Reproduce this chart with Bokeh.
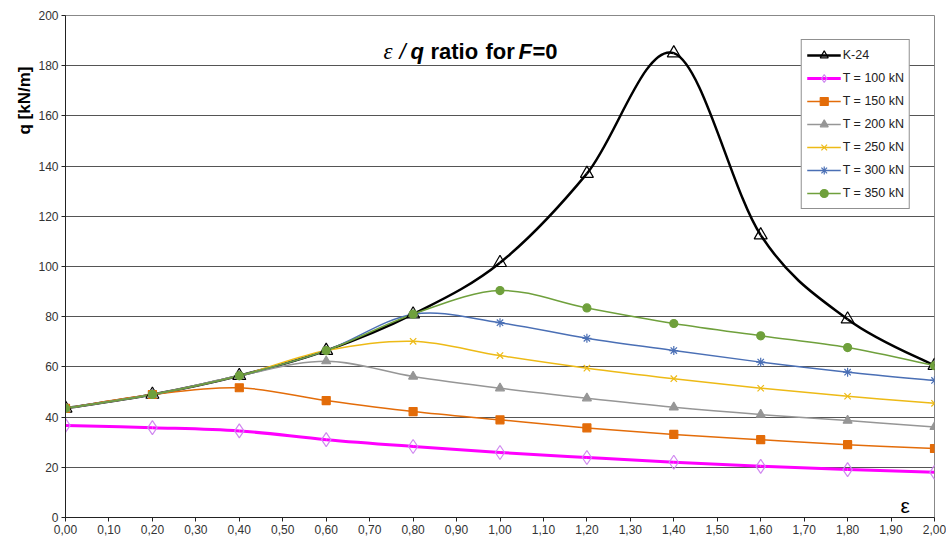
import numpy as np
from bokeh.plotting import figure
from bokeh.models import (Range1d, FixedTicker, CustomJSTickFormatter, Legend, LegendItem,
                          Label, ColumnDataSource, Title)
from bokeh.embed import file_html
from bokeh.resources import INLINE

eps = [0.0, 0.2, 0.4, 0.6, 0.8, 1.0, 1.2, 1.4, 1.6, 1.8, 2.0]
k24 = [43.5, 49.0, 56.5, 66.5, 81.0, 101.5, 137.0, 185.0, 112.5, 79.0, 60.5]
t100 = [36.7, 35.8, 34.5, 31.0, 28.3, 25.9, 23.9, 22.0, 20.4, 19.1, 18.0]
t150 = [43.5, 49.0, 51.7, 46.6, 42.2, 38.9, 35.7, 33.1, 31.0, 29.0, 27.5]
t200 = [43.5, 49.0, 56.5, 62.3, 56.2, 51.5, 47.5, 43.9, 41.0, 38.6, 36.1]
t250 = [43.5, 49.0, 56.5, 66.5, 70.2, 64.5, 59.5, 55.3, 51.5, 48.3, 45.5]
t300 = [43.5, 49.0, 56.5, 66.5, 81.0, 77.6, 71.4, 66.5, 61.9, 57.9, 54.6]
t350 = [43.5, 49.0, 56.5, 66.5, 81.0, 90.4, 83.5, 77.3, 72.4, 67.7, 60.5]
series_names = ["K-24", "T = 100 kN", "T = 150 kN", "T = 200 kN", "T = 250 kN", "T = 300 kN", "T = 350 kN"]
x_ticks = [round(i * 0.1, 2) for i in range(21)]
y_ticks = list(range(0, 201, 20))

styles = [
    dict(color="#000000", lw=2.5, marker="triangle", size=13, fill=None, mline="#000000"),
    dict(color="#FF00FF", lw=3, marker="diamond", size=14, fill=None, mline="#D088F0"),
    dict(color="#E36C09", lw=1.5, marker="square", size=8, fill="#E36C09", mline="#E36C09"),
    dict(color="#969696", lw=1.5, marker="triangle", size=9, fill="#969696", mline="#969696"),
    dict(color="#EDBA16", lw=1.5, marker="x", size=9, fill=None, mline="#EDBA16"),
    dict(color="#4A6FB5", lw=1.5, marker="asterisk", size=9, fill=None, mline="#4A6FB5"),
    dict(color="#6FA03C", lw=1.5, marker="circle", size=8, fill="#6FA03C", mline="#6FA03C"),
]

p = figure(width=946, height=538, output_backend="svg", toolbar_location=None,
           x_range=Range1d(0, 2.0), y_range=Range1d(0, 200),
           min_border_left=65, min_border_right=12, min_border_top=15, min_border_bottom=21)
p.background_fill_color = "white"
p.border_fill_color = "white"
p.outline_line_color = "#888888"
p.xgrid.visible = False
p.ygrid.grid_line_color = "#555555"
p.ygrid.grid_line_width = 1

for ax in (p.xaxis[0], p.yaxis[0]):
    ax.axis_line_color = "#222222"
    ax.major_tick_line_color = "#222222"
    ax.major_tick_out = 4
    ax.major_tick_in = 0
    ax.minor_tick_line_color = None
    ax.major_label_text_font = "Liberation Sans"
    ax.major_label_text_font_size = "12px"
    ax.major_label_text_color = "#333333"
    ax.major_label_standoff = 3
p.xaxis.ticker = FixedTicker(ticks=x_ticks)
p.yaxis.ticker = FixedTicker(ticks=y_ticks)
p.xaxis.formatter = CustomJSTickFormatter(code="return tick.toFixed(2).replace('.', ',');")
p.yaxis.formatter = CustomJSTickFormatter(code="return tick.toFixed(0);")

ylab = Title(text="q [kN/m]", align="right", offset=51, text_font="Liberation Sans",
             text_font_style="bold", text_font_size="17px", text_color="#000000",
             standoff=4)
p.add_layout(ylab, "left")


def bezier_source(xs, ys):
    x = np.array(xs, dtype=float)
    y = np.array(ys, dtype=float)
    n = len(x)
    xp = np.concatenate([[x[0]], x, [x[-1]]])
    yp = np.concatenate([[y[0]], y, [y[-1]]])
    x0, y0 = x[:-1], y[:-1]
    x1, y1 = x[1:], y[1:]
    cx0 = x0 + (xp[2:n + 1] - xp[0:n - 1]) / 6.0
    cy0 = y0 + (yp[2:n + 1] - yp[0:n - 1]) / 6.0
    cx1 = x1 - (xp[3:n + 2] - xp[1:n]) / 6.0
    cy1 = y1 - (yp[3:n + 2] - yp[1:n]) / 6.0
    return ColumnDataSource(dict(x0=x0, y0=y0, x1=x1, y1=y1, cx0=cx0, cy0=cy0, cx1=cx1, cy1=cy1))


items = []
all_series = [k24, t100, t150, t200, t250, t300, t350]
line_rs = []
for name, ys, st in zip(series_names, all_series, styles):
    src = bezier_source(eps, ys)
    lr = p.bezier(x0="x0", y0="y0", x1="x1", y1="y1", cx0="cx0", cy0="cy0", cx1="cx1", cy1="cy1",
                  source=src, line_color=st["color"], line_width=st["lw"])
    line_rs.append(lr)
marker_rs = []
for name, ys, st in zip(series_names, all_series, styles):
    mr = p.scatter(eps, ys, marker=st["marker"], size=st["size"], fill_color=st["fill"],
                   line_color=st["mline"], line_width=1.2)
    marker_rs.append(mr)
for name, lr, mr in zip(series_names, line_rs, marker_rs):
    items.append(LegendItem(label=name, renderers=[lr, mr]))

legend = Legend(items=items, location="top_right", margin=24, padding=5, spacing=3,
                label_text_font="Liberation Sans", label_text_font_size="12.5px",
                label_text_color="#222222", glyph_width=34, glyph_height=20, label_height=20,
                label_standoff=2, border_line_color="#222222", border_line_width=1,
                background_fill_color="white", background_fill_alpha=1.0)
p.add_layout(legend, "center")

# Title pieces (screen units relative to frame)
tb = 466
tfs = "22px"
parts = [
    ("ε", 318, "Liberation Serif", "italic", "23px"),
    ("/", 334, "Liberation Sans", "italic", tfs),
    ("q", 345, "Liberation Sans", "bold italic", tfs),
    ("ratio", 365, "Liberation Sans", "bold", tfs),
    ("for", 420, "Liberation Sans", "bold", tfs),
    ("F", 453, "Liberation Sans", "bold italic", tfs),
    ("=0", 467, "Liberation Sans", "bold", tfs),
]
for txt, xx, fnt, sty, fs in parts:
    p.add_layout(Label(x=xx, y=tb, x_units="screen", y_units="screen", text=txt,
                       text_font=fnt, text_font_style=sty, text_font_size=fs,
                       text_baseline="alphabetic", text_align="left", text_color="#000000"))

# x axis label
p.add_layout(Label(x=835, y=12, x_units="screen", y_units="screen", text="ε",
                   text_font="Liberation Sans", text_font_size="21px",
                   text_baseline="alphabetic", text_align="left", text_color="#000000"))

open("out.html", "w").write(file_html(p, INLINE))
